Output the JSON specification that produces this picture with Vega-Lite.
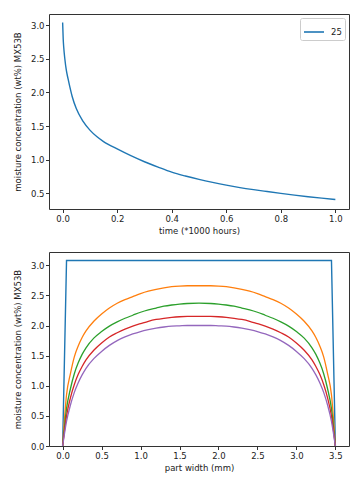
{
  "$schema": "https://vega.github.io/schema/vega-lite/v6.json",
  "padding": {"left": 12, "top": 13, "right": 5, "bottom": 5},
  "spacing": 15,
  "resolve": {"scale": {"color": "independent"}, "legend": {"color": "independent"}},
  "config": {
    "font": "DejaVu Sans",
    "view": {"stroke": "#333", "strokeWidth": 1},
    "axis": {
      "domain": false, "grid": false,
      "labelFont": "DejaVu Sans", "labelFontSize": 8.5, "labelColor": "#222",
      "tickColor": "#333", "tickSize": 3.5, "labelPadding": 1.5,
      "titleFont": "DejaVu Sans", "titleFontSize": 8.5, "titleFontWeight": "normal", "titleColor": "#222",
      "titlePadding": 4
    },
    "axisY": {"titlePadding": 8},
    "legend": {"labelFont": "DejaVu Sans", "labelFontSize": 8.5, "labelColor": "#222"}
  },
  "datasets": {
    "time": [
      {"t": 0, "c": 3.04, "s": "25"},
      {"t": 0.002, "c": 2.80, "s": "25"},
      {"t": 0.004, "c": 2.67, "s": "25"},
      {"t": 0.008, "c": 2.50, "s": "25"},
      {"t": 0.0135, "c": 2.33, "s": "25"},
      {"t": 0.02, "c": 2.20, "s": "25"},
      {"t": 0.026, "c": 2.09, "s": "25"},
      {"t": 0.035, "c": 1.94, "s": "25"},
      {"t": 0.05, "c": 1.76, "s": "25"},
      {"t": 0.075, "c": 1.57, "s": "25"},
      {"t": 0.1, "c": 1.44, "s": "25"},
      {"t": 0.125, "c": 1.345, "s": "25"},
      {"t": 0.15, "c": 1.27, "s": "25"},
      {"t": 0.2, "c": 1.16, "s": "25"},
      {"t": 0.25, "c": 1.06, "s": "25"},
      {"t": 0.3, "c": 0.97, "s": "25"},
      {"t": 0.35, "c": 0.89, "s": "25"},
      {"t": 0.4, "c": 0.815, "s": "25"},
      {"t": 0.45, "c": 0.758, "s": "25"},
      {"t": 0.5, "c": 0.708, "s": "25"},
      {"t": 0.55, "c": 0.663, "s": "25"},
      {"t": 0.6, "c": 0.622, "s": "25"},
      {"t": 0.65, "c": 0.586, "s": "25"},
      {"t": 0.7, "c": 0.555, "s": "25"},
      {"t": 0.75, "c": 0.527, "s": "25"},
      {"t": 0.8, "c": 0.50, "s": "25"},
      {"t": 0.85, "c": 0.474, "s": "25"},
      {"t": 0.9, "c": 0.45, "s": "25"},
      {"t": 0.95, "c": 0.429, "s": "25"},
      {"t": 1.0, "c": 0.41, "s": "25"}
    ],
    "box": [
      {"x": 0, "c": 0, "s": "0"}, {"x": 0.05, "c": 3.08, "s": "0"}, {"x": 3.45, "c": 3.08, "s": "0"}, {"x": 3.5, "c": 0, "s": "0"}
    ],
    "width": [
      {"x": 0, "c": 0, "s": "1"}, {"x": 0.05, "c": 0.85, "s": "1"}, {"x": 0.1, "c": 1.20, "s": "1"}, {"x": 0.15, "c": 1.48, "s": "1"}, {"x": 0.2, "c": 1.66, "s": "1"}, {"x": 0.25, "c": 1.80, "s": "1"}, {"x": 0.3, "c": 1.91, "s": "1"}, {"x": 0.4, "c": 2.07, "s": "1"}, {"x": 0.5, "c": 2.19, "s": "1"}, {"x": 0.6, "c": 2.29, "s": "1"}, {"x": 0.7, "c": 2.37, "s": "1"}, {"x": 0.8, "c": 2.43, "s": "1"}, {"x": 0.9, "c": 2.48, "s": "1"}, {"x": 1.0, "c": 2.53, "s": "1"}, {"x": 1.1, "c": 2.57, "s": "1"}, {"x": 1.2, "c": 2.60, "s": "1"}, {"x": 1.3, "c": 2.625, "s": "1"}, {"x": 1.4, "c": 2.645, "s": "1"}, {"x": 1.5, "c": 2.655, "s": "1"}, {"x": 1.6, "c": 2.66, "s": "1"}, {"x": 1.75, "c": 2.66, "s": "1"},
      {"x": 1.9, "c": 2.66, "s": "1"}, {"x": 2.0, "c": 2.655, "s": "1"}, {"x": 2.1, "c": 2.645, "s": "1"}, {"x": 2.2, "c": 2.625, "s": "1"}, {"x": 2.3, "c": 2.60, "s": "1"}, {"x": 2.4, "c": 2.57, "s": "1"}, {"x": 2.5, "c": 2.53, "s": "1"}, {"x": 2.6, "c": 2.48, "s": "1"}, {"x": 2.7, "c": 2.43, "s": "1"}, {"x": 2.8, "c": 2.37, "s": "1"}, {"x": 2.9, "c": 2.29, "s": "1"}, {"x": 3.0, "c": 2.19, "s": "1"}, {"x": 3.1, "c": 2.07, "s": "1"}, {"x": 3.2, "c": 1.91, "s": "1"}, {"x": 3.25, "c": 1.80, "s": "1"}, {"x": 3.3, "c": 1.66, "s": "1"}, {"x": 3.35, "c": 1.48, "s": "1"}, {"x": 3.4, "c": 1.20, "s": "1"}, {"x": 3.45, "c": 0.85, "s": "1"}, {"x": 3.5, "c": 0, "s": "1"},

      {"x": 0, "c": 0, "s": "2"}, {"x": 0.05, "c": 0.62, "s": "2"}, {"x": 0.1, "c": 0.95, "s": "2"}, {"x": 0.15, "c": 1.20, "s": "2"}, {"x": 0.2, "c": 1.38, "s": "2"}, {"x": 0.25, "c": 1.52, "s": "2"}, {"x": 0.3, "c": 1.63, "s": "2"}, {"x": 0.4, "c": 1.79, "s": "2"}, {"x": 0.5, "c": 1.90, "s": "2"}, {"x": 0.6, "c": 1.99, "s": "2"}, {"x": 0.7, "c": 2.06, "s": "2"}, {"x": 0.8, "c": 2.12, "s": "2"}, {"x": 0.9, "c": 2.17, "s": "2"}, {"x": 1.0, "c": 2.22, "s": "2"}, {"x": 1.1, "c": 2.26, "s": "2"}, {"x": 1.2, "c": 2.29, "s": "2"}, {"x": 1.3, "c": 2.32, "s": "2"}, {"x": 1.4, "c": 2.34, "s": "2"}, {"x": 1.5, "c": 2.355, "s": "2"}, {"x": 1.6, "c": 2.365, "s": "2"}, {"x": 1.75, "c": 2.37, "s": "2"},
      {"x": 1.9, "c": 2.365, "s": "2"}, {"x": 2.0, "c": 2.355, "s": "2"}, {"x": 2.1, "c": 2.34, "s": "2"}, {"x": 2.2, "c": 2.32, "s": "2"}, {"x": 2.3, "c": 2.29, "s": "2"}, {"x": 2.4, "c": 2.26, "s": "2"}, {"x": 2.5, "c": 2.22, "s": "2"}, {"x": 2.6, "c": 2.17, "s": "2"}, {"x": 2.7, "c": 2.12, "s": "2"}, {"x": 2.8, "c": 2.06, "s": "2"}, {"x": 2.9, "c": 1.99, "s": "2"}, {"x": 3.0, "c": 1.90, "s": "2"}, {"x": 3.1, "c": 1.79, "s": "2"}, {"x": 3.2, "c": 1.63, "s": "2"}, {"x": 3.25, "c": 1.52, "s": "2"}, {"x": 3.3, "c": 1.38, "s": "2"}, {"x": 3.35, "c": 1.20, "s": "2"}, {"x": 3.4, "c": 0.95, "s": "2"}, {"x": 3.45, "c": 0.62, "s": "2"}, {"x": 3.5, "c": 0, "s": "2"},

      {"x": 0, "c": 0, "s": "3"}, {"x": 0.05, "c": 0.50, "s": "3"}, {"x": 0.1, "c": 0.80, "s": "3"}, {"x": 0.15, "c": 1.02, "s": "3"}, {"x": 0.2, "c": 1.19, "s": "3"}, {"x": 0.25, "c": 1.32, "s": "3"}, {"x": 0.3, "c": 1.43, "s": "3"}, {"x": 0.4, "c": 1.59, "s": "3"}, {"x": 0.5, "c": 1.71, "s": "3"}, {"x": 0.6, "c": 1.81, "s": "3"}, {"x": 0.7, "c": 1.88, "s": "3"}, {"x": 0.8, "c": 1.94, "s": "3"}, {"x": 0.9, "c": 1.99, "s": "3"}, {"x": 1.0, "c": 2.03, "s": "3"}, {"x": 1.1, "c": 2.07, "s": "3"}, {"x": 1.2, "c": 2.10, "s": "3"}, {"x": 1.3, "c": 2.12, "s": "3"}, {"x": 1.4, "c": 2.135, "s": "3"}, {"x": 1.5, "c": 2.145, "s": "3"}, {"x": 1.6, "c": 2.15, "s": "3"}, {"x": 1.75, "c": 2.15, "s": "3"},
      {"x": 1.9, "c": 2.15, "s": "3"}, {"x": 2.0, "c": 2.145, "s": "3"}, {"x": 2.1, "c": 2.135, "s": "3"}, {"x": 2.2, "c": 2.12, "s": "3"}, {"x": 2.3, "c": 2.10, "s": "3"}, {"x": 2.4, "c": 2.07, "s": "3"}, {"x": 2.5, "c": 2.03, "s": "3"}, {"x": 2.6, "c": 1.99, "s": "3"}, {"x": 2.7, "c": 1.94, "s": "3"}, {"x": 2.8, "c": 1.88, "s": "3"}, {"x": 2.9, "c": 1.81, "s": "3"}, {"x": 3.0, "c": 1.71, "s": "3"}, {"x": 3.1, "c": 1.59, "s": "3"}, {"x": 3.2, "c": 1.43, "s": "3"}, {"x": 3.25, "c": 1.32, "s": "3"}, {"x": 3.3, "c": 1.19, "s": "3"}, {"x": 3.35, "c": 1.02, "s": "3"}, {"x": 3.4, "c": 0.80, "s": "3"}, {"x": 3.45, "c": 0.50, "s": "3"}, {"x": 3.5, "c": 0, "s": "3"},

      {"x": 0, "c": 0, "s": "4"}, {"x": 0.05, "c": 0.41, "s": "4"}, {"x": 0.1, "c": 0.68, "s": "4"}, {"x": 0.15, "c": 0.89, "s": "4"}, {"x": 0.2, "c": 1.05, "s": "4"}, {"x": 0.25, "c": 1.18, "s": "4"}, {"x": 0.3, "c": 1.29, "s": "4"}, {"x": 0.4, "c": 1.45, "s": "4"}, {"x": 0.5, "c": 1.57, "s": "4"}, {"x": 0.6, "c": 1.67, "s": "4"}, {"x": 0.7, "c": 1.75, "s": "4"}, {"x": 0.8, "c": 1.81, "s": "4"}, {"x": 0.9, "c": 1.86, "s": "4"}, {"x": 1.0, "c": 1.90, "s": "4"}, {"x": 1.1, "c": 1.93, "s": "4"}, {"x": 1.2, "c": 1.955, "s": "4"}, {"x": 1.3, "c": 1.975, "s": "4"}, {"x": 1.4, "c": 1.99, "s": "4"}, {"x": 1.5, "c": 1.995, "s": "4"}, {"x": 1.6, "c": 2.0, "s": "4"}, {"x": 1.75, "c": 2.0, "s": "4"},
      {"x": 1.9, "c": 2.0, "s": "4"}, {"x": 2.0, "c": 1.995, "s": "4"}, {"x": 2.1, "c": 1.99, "s": "4"}, {"x": 2.2, "c": 1.975, "s": "4"}, {"x": 2.3, "c": 1.955, "s": "4"}, {"x": 2.4, "c": 1.93, "s": "4"}, {"x": 2.5, "c": 1.90, "s": "4"}, {"x": 2.6, "c": 1.86, "s": "4"}, {"x": 2.7, "c": 1.81, "s": "4"}, {"x": 2.8, "c": 1.75, "s": "4"}, {"x": 2.9, "c": 1.67, "s": "4"}, {"x": 3.0, "c": 1.57, "s": "4"}, {"x": 3.1, "c": 1.45, "s": "4"}, {"x": 3.2, "c": 1.29, "s": "4"}, {"x": 3.25, "c": 1.18, "s": "4"}, {"x": 3.3, "c": 1.05, "s": "4"}, {"x": 3.35, "c": 0.89, "s": "4"}, {"x": 3.4, "c": 0.68, "s": "4"}, {"x": 3.45, "c": 0.41, "s": "4"}, {"x": 3.5, "c": 0, "s": "4"}
    ]
  },
  "vconcat": [
    {
      "width": 300,
      "height": 195,
      "data": {"name": "time"},
      "mark": {"type": "line", "strokeWidth": 1.4, "clip": true, "interpolate": "monotone"},
      "encoding": {
        "x": {"field": "t", "type": "quantitative", "title": "time (*1000 hours)",
              "scale": {"domain": [-0.05, 1.05], "nice": false, "zero": false},
              "axis": {"values": [0, 0.2, 0.4, 0.6, 0.8, 1.0], "format": ".1f"}},
        "y": {"field": "c", "type": "quantitative", "title": "moisture concentration (wt%) MX53B",
              "scale": {"domain": [0.268, 3.165], "nice": false, "zero": false},
              "axis": {"values": [0.5, 1.0, 1.5, 2.0, 2.5, 3.0], "format": ".1f"}},
        "color": {"field": "s", "type": "nominal",
                  "scale": {"domain": ["25"], "range": ["#1f77b4"]},
                  "legend": {"title": null, "orient": "top-right", "offset": 4,
                             "symbolType": "stroke", "symbolSize": 400, "symbolStrokeWidth": 1.6,
                             "strokeColor": "#ccc", "fillColor": "white", "cornerRadius": 2,
                             "padding": 3, "labelOffset": 6}}
      }
    },
    {
      "width": 300,
      "height": 194,
      "resolve": {"scale": {"color": "shared"}},
      "encoding": {
        "x": {"field": "x", "type": "quantitative", "title": "part width (mm)",
              "scale": {"domain": [-0.175, 3.675], "nice": false, "zero": false},
              "axis": {"values": [0, 0.5, 1.0, 1.5, 2.0, 2.5, 3.0, 3.5], "format": ".1f"}},
        "y": {"field": "c", "type": "quantitative", "title": "moisture concentration (wt%) MX53B",
              "scale": {"domain": [0, 3.22], "nice": false, "zero": false},
              "axis": {"values": [0, 0.5, 1.0, 1.5, 2.0, 2.5, 3.0], "format": ".1f"}},
        "color": {"field": "s", "type": "nominal",
                  "scale": {"domain": ["0", "1", "2", "3", "4"], "range": ["#1f77b4", "#ff7f0e", "#2ca02c", "#d62728", "#9467bd"]},
                  "legend": null}
      },
      "layer": [
        {"data": {"name": "box"}, "mark": {"type": "line", "strokeWidth": 1.4, "clip": true}},
        {"data": {"name": "width"}, "mark": {"type": "line", "strokeWidth": 1.3, "clip": true, "interpolate": "monotone"}}
      ]
    }
  ]
}
